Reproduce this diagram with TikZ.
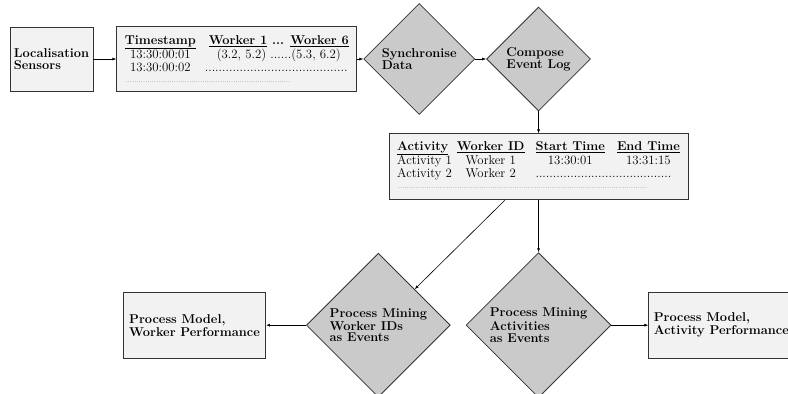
\documentclass[tikz,border=0pt]{standalone}
\usepackage{tikz}
\usetikzlibrary{arrows.meta,positioning,shapes.geometric}
\definecolor{boxfill}{HTML}{F2F2F2}
\definecolor{stepfill}{HTML}{CACACA}
\definecolor{edgegray}{HTML}{333333}
\newcommand{\flowfont}{\fontsize{12.8}{11.5}\selectfont}
\newcommand{\hd}[1]{\underline{\textbf{#1}}}
\renewcommand{\arraystretch}{1.1}
\tikzset{
  databox/.style={
    rectangle,
    draw=edgegray,
    line width=0.9pt,
    fill=boxfill,
    font=\flowfont\bfseries,
    align=left,
    inner xsep=2.5pt,
    minimum height=65pt
  },
  tablebox/.style={
    rectangle,
    draw=edgegray,
    line width=0.9pt,
    fill=boxfill,
    font=\flowfont,
    inner xsep=5pt,
    minimum height=65pt
  },
  stepnode/.style={
    diamond,
    draw=edgegray,
    line width=0.8pt,
    fill=stepfill,
    font=\flowfont\bfseries,
    align=left,
    inner sep=3.3pt
  },
  arrow/.style={-{Latex[length=4pt,width=3pt]},line width=0.6pt,draw=black}
}

\begin{document}
\begin{tikzpicture}[x=1pt,y=1pt]
    \useasboundingbox (0,0) rectangle (788,-394);

    % acquisition and preprocessing
    \node[databox,minimum height=64pt,minimum width=83pt] (sensors) at (51.5,-59) {Localisation\\Sensors};
    \node[tablebox,right=23pt of sensors,minimum width=240pt] (raw) {%
      \raisebox{-2pt}[\height][\depth]{%
      \begin{tabular}{@{}c@{\hspace{13pt}}c@{}}
        \hd{Timestamp} & \textbf{\hd{Worker 1} ... \hd{Worker 6}}\\[1pt]
        13:30:00:01 & (3.2, 5.2) ......(5.3, 6.2)\\
        13:30:00:02 & \multicolumn{1}{l@{}}{\hspace{-10pt}.........................................}\\[-1pt]
        \multicolumn{2}{@{}l@{}}{\makebox[166pt][l]{\tiny\dotfill}}
      \end{tabular}}};
    \node[stepnode,right=6pt of raw,minimum size=111pt] (sync) {Synchronise\\[1.1pt]Data};
    \node[stepnode,right=11pt of sync,minimum size=104pt] (compose) {Compose\\[0.8pt]Event Log};

    % event log
    \node[tablebox,below=22pt of compose,minimum width=299pt,inner xsep=3pt,minimum height=66pt] (eventlog) {%
      \begin{tabular}{@{}l@{\hspace{5pt}}c@{\hspace{11pt}}c@{\hspace{12pt}}c@{}}
        \hd{Activity} & \hd{Worker ID} & \hd{Start Time} & \hd{End Time}\\[1.5pt]
        Activity 1 & Worker 1 & 13:30:01 & 13:31:15\\
        Activity 2 & Worker 2 & \multicolumn{2}{l@{}}{\hspace{-6pt}.......................................}\\[-2pt]
        \multicolumn{4}{@{}l@{}}{\makebox[250pt][l]{\tiny\dotfill}}
      \end{tabular}};

    % the two mining views
    \node[stepnode,below=52pt of eventlog,minimum size=144pt] (actmining) {Process Mining\\[1.5pt]Activities\\as Events};
    \node[stepnode,left=15pt of actmining,minimum size=143pt] (workermining) {Process Mining\\[1.5pt]Worker IDs\\as Events};
    \node[databox,left=40pt of workermining,inner xsep=3pt,minimum width=142pt,minimum height=66pt] (workerperf) {Process Model,\\[1.5pt]Worker Performance};
    \node[databox,right=37pt of actmining,inner xsep=1.5pt,minimum width=145pt,minimum height=66pt] (actperf) {Process Model,\\[1.5pt]Activity Performance};

    \draw[arrow] (sensors) -- (raw);
    \draw[arrow] (raw) -- (sync);
    \draw[arrow] (sync) -- (compose);
    \draw[arrow] (compose) -- (eventlog);
    \draw[arrow] (eventlog) -- (workermining);
    \draw[arrow] (eventlog.south) -- (actmining.north);
    \draw[arrow] (workermining) -- (workerperf);
    \draw[arrow] (actmining) -- (actperf);
\end{tikzpicture}
\end{document}
